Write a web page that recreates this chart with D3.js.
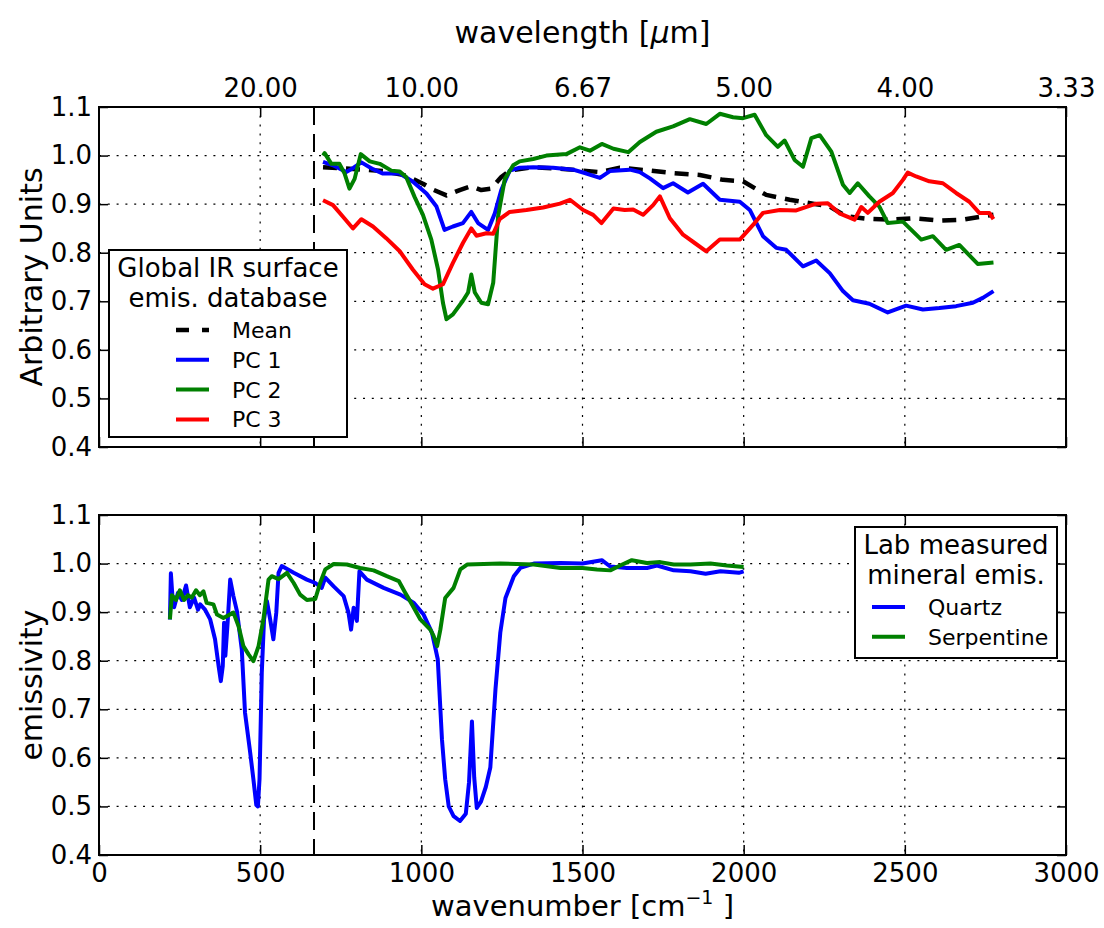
<!DOCTYPE html>
<html>
<head>
<meta charset="utf-8">
<script src="https://cdn.jsdelivr.net/npm/d3@7"></script>
<style>
  html, body { margin: 0; padding: 0; background: #fff; }
  svg { display: block; font-family: "DejaVu Sans", sans-serif; }
</style>
</head>
<body>
<svg id="chart" width="1104" height="928"></svg>
<script>
// ---- data: wavenumber [cm^-1] vs value ----
const wavenumberTicks = [0, 500, 1000, 1500, 2000, 2500, 3000];
const wavelengthTickPositions = [500, 1000, 1500, 2000, 2500, 3000];
const wavelengthTickLabels = ["20.00", "10.00", "6.67", "5.00", "4.00", "3.33"];
const yTicks = [0.4, 0.5, 0.6, 0.7, 0.8, 0.9, 1.0, 1.1];
const co2Band = 667;

const meanSpectrum = [[695,0.976],[777,0.973],[881,0.968],[953,0.959],[1005,0.942],[1036,0.93],[1078,0.918],[1119,0.929],[1155,0.937],[1186,0.929],[1217,0.932],[1248,0.956],[1274,0.969],[1347,0.976],[1450,0.972],[1554,0.966],[1616,0.975],[1709,0.969],[1781,0.964],[1864,0.96],[1936,0.95],[1998,0.947],[2070,0.919],[2143,0.909],[2215,0.901],[2267,0.895],[2318,0.875],[2380,0.87],[2452,0.868],[2525,0.871],[2607,0.866],[2680,0.868],[2742,0.875],[2775,0.878]];

const pc1 = [[695,0.987],[726,0.98],[767,0.966],[790,0.975],[814,0.986],[850,0.972],[881,0.963],[933,0.963],[974,0.946],[1016,0.922],[1047,0.895],[1072,0.847],[1098,0.854],[1129,0.861],[1155,0.884],[1176,0.861],[1207,0.847],[1228,0.881],[1248,0.929],[1274,0.969],[1305,0.975],[1347,0.976],[1409,0.975],[1471,0.971],[1512,0.963],[1554,0.954],[1585,0.968],[1647,0.971],[1678,0.966],[1709,0.953],[1750,0.933],[1781,0.943],[1827,0.924],[1874,0.942],[1926,0.909],[1988,0.905],[2019,0.888],[2060,0.834],[2101,0.810],[2132,0.806],[2184,0.772],[2225,0.784],[2267,0.758],[2308,0.721],[2339,0.702],[2390,0.695],[2447,0.677],[2504,0.691],[2556,0.683],[2607,0.686],[2659,0.690],[2711,0.697],[2742,0.707],[2775,0.721]];

const pc2 = [[695,1.0],[700,1.005],[721,0.983],[746,0.983],[762,0.963],[777,0.932],[793,0.952],[812,1.003],[840,0.988],[871,0.983],[907,0.969],[933,0.967],[953,0.956],[979,0.915],[1005,0.878],[1031,0.827],[1052,0.765],[1067,0.697],[1078,0.663],[1098,0.673],[1129,0.701],[1145,0.718],[1155,0.755],[1166,0.718],[1186,0.697],[1207,0.694],[1223,0.738],[1238,0.874],[1259,0.952],[1285,0.980],[1305,0.988],[1347,0.993],[1388,1.0],[1450,1.003],[1492,1.017],[1523,1.010],[1560,1.024],[1596,1.014],[1642,1.007],[1678,1.028],[1729,1.049],[1781,1.06],[1833,1.075],[1884,1.065],[1926,1.086],[1967,1.079],[1998,1.077],[2034,1.084],[2070,1.042],[2106,1.018],[2127,1.031],[2158,0.991],[2184,0.977],[2210,1.036],[2236,1.042],[2272,1.008],[2308,0.94],[2329,0.923],[2354,0.943],[2390,0.916],[2421,0.895],[2447,0.861],[2494,0.864],[2551,0.827],[2587,0.834],[2628,0.806],[2669,0.816],[2726,0.777],[2775,0.78]];

const pc3 = [[695,0.908],[726,0.898],[757,0.874],[788,0.85],[814,0.869],[850,0.854],[891,0.830],[933,0.803],[974,0.765],[1010,0.735],[1036,0.726],[1067,0.735],[1098,0.779],[1129,0.82],[1155,0.85],[1171,0.835],[1202,0.84],[1223,0.839],[1243,0.869],[1274,0.884],[1326,0.888],[1378,0.893],[1430,0.901],[1461,0.909],[1502,0.888],[1533,0.878],[1559,0.861],[1596,0.891],[1631,0.888],[1657,0.889],[1688,0.878],[1719,0.898],[1740,0.916],[1771,0.871],[1812,0.837],[1848,0.82],[1884,0.803],[1926,0.827],[1988,0.827],[2034,0.861],[2060,0.882],[2112,0.888],[2163,0.887],[2225,0.901],[2261,0.902],[2297,0.881],[2344,0.868],[2365,0.894],[2385,0.882],[2421,0.905],[2463,0.923],[2494,0.95],[2509,0.965],[2535,0.957],[2576,0.947],[2618,0.943],[2659,0.923],[2700,0.905],[2731,0.882],[2762,0.882],[2775,0.869]];

const quartz = [[220,0.885],[223,0.98],[228,0.93],[233,0.91],[245,0.94],[257,0.925],[270,0.955],[282,0.91],[295,0.93],[307,0.905],[314,0.916],[329,0.905],[345,0.885],[360,0.844],[371,0.789],[378,0.758],[384,0.789],[388,0.878],[392,0.81],[399,0.878],[407,0.967],[417,0.933],[428,0.902],[443,0.823],[453,0.693],[469,0.611],[479,0.556],[488,0.503],[493,0.5],[498,0.556],[505,0.775],[512,0.885],[521,0.923],[531,0.885],[541,0.844],[550,0.899],[557,0.981],[567,0.995],[604,0.981],[645,0.967],[671,0.96],[691,0.95],[702,0.971],[728,0.953],[759,0.933],[774,0.899],[782,0.864],[790,0.909],[800,0.882],[808,0.984],[831,0.967],[883,0.95],[935,0.936],[977,0.919],[1007,0.895],[1033,0.858],[1051,0.803],[1064,0.638],[1074,0.556],[1085,0.5],[1100,0.48],[1120,0.47],[1138,0.485],[1148,0.55],[1157,0.675],[1164,0.56],[1172,0.497],[1185,0.51],[1200,0.54],[1214,0.58],[1230,0.741],[1245,0.858],[1261,0.929],[1287,0.974],[1307,0.991],[1349,1.0],[1432,1.001],[1500,1.0],[1560,1.007],[1586,0.994],[1638,0.991],[1700,0.991],[1731,0.996],[1783,0.986],[1835,0.984],[1882,0.979],[1928,0.984],[1985,0.981],[2000,0.984]];

const serpentine = [[220,0.885],[226,0.935],[239,0.925],[251,0.945],[264,0.925],[276,0.935],[288,0.93],[301,0.945],[313,0.935],[324,0.943],[334,0.919],[355,0.916],[366,0.895],[386,0.888],[417,0.899],[433,0.871],[448,0.83],[464,0.813],[479,0.799],[495,0.83],[510,0.885],[526,0.967],[536,0.974],[557,0.968],[583,0.981],[604,0.96],[624,0.936],[645,0.925],[671,0.927],[686,0.96],[702,0.988],[728,0.999],[769,0.998],[810,0.991],[852,0.986],[893,0.974],[930,0.964],[950,0.94],[971,0.916],[997,0.885],[1028,0.864],[1038,0.851],[1049,0.83],[1059,0.864],[1074,0.929],[1100,0.95],[1121,0.988],[1142,0.998],[1245,1.0],[1349,0.998],[1432,0.991],[1500,0.991],[1545,0.988],[1586,0.986],[1617,0.996],[1653,1.007],[1700,1.001],[1741,1.003],[1783,0.998],[1835,0.998],[1897,1.0],[1948,0.996],[2000,0.993]];

const topSeries = [
  { name: "Mean", data: meanSpectrum, color: "#000000", dash: "14,9", width: 4.5 },
  { name: "PC 1", data: pc1, color: "#0000ff", dash: null, width: 4 },
  { name: "PC 2", data: pc2, color: "#008000", dash: null, width: 4 },
  { name: "PC 3", data: pc3, color: "#ff0000", dash: null, width: 4 }
];
const bottomSeries = [
  { name: "Quartz", data: quartz, color: "#0000ff", dash: null, width: 4 },
  { name: "Serpentine", data: serpentine, color: "#008000", dash: null, width: 4 }
];

// ---- layout ----
const svg = d3.select("#chart");
const left = 99, right = 1066;
const x = d3.scaleLinear().domain([0, 3000]).range([left, right]);
const panels = [
  { top: 107, bottom: 447, series: topSeries, ylabel: "Arbitrary Units",
    legend: { x: 109, y: 250, w: 238, h: 187, title: ["Global IR surface", "emis. database"] } },
  { top: 515, bottom: 855, series: bottomSeries, ylabel: "emissivity",
    legend: { x: 855, y: 527, w: 202, h: 131, title: ["Lab measured", "mineral emis."] } }
];

const tickFont = 26;

panels.forEach((p, pi) => {
  const y = d3.scaleLinear().domain([0.4, 1.1]).range([p.bottom, p.top]);
  const g = svg.append("g");
  const clipId = "clip" + pi;
  svg.append("clipPath").attr("id", clipId).append("rect")
    .attr("x", left).attr("y", p.top).attr("width", right - left).attr("height", p.bottom - p.top);

  // dotted grid
  const grid = g.append("g").attr("stroke", "#000").attr("stroke-width", 1.2)
    .attr("stroke-dasharray", "2,6.8").attr("fill", "none");
  grid.selectAll("line.h").data(yTicks.slice(1, -1)).join("line")
    .attr("x1", left).attr("x2", right).attr("y1", d => y(d)).attr("y2", d => y(d));
  grid.selectAll("line.v").data(wavenumberTicks.slice(1, -1)).join("line")
    .attr("y1", p.top).attr("y2", p.bottom).attr("x1", d => x(d)).attr("x2", d => x(d));

  // 15 micron marker
  g.append("line").attr("x1", x(co2Band)).attr("x2", x(co2Band))
    .attr("y1", p.top).attr("y2", p.bottom)
    .attr("stroke", "#000").attr("stroke-width", 2).attr("stroke-dasharray", "18,9");

  // spectra
  const line = d3.line().x(d => x(d[0])).y(d => y(d[1]));
  const lines = g.append("g").attr("clip-path", `url(#${clipId})`);
  p.series.forEach(s => {
    lines.append("path").datum(s.data).attr("d", line)
      .attr("fill", "none").attr("stroke", s.color).attr("stroke-width", s.width)
      .attr("stroke-linejoin", "round")
      .attr("stroke-dasharray", s.dash);
  });

  // axes with inward ticks
  const yAxisL = d3.axisLeft(y).tickValues(yTicks).tickFormat(d3.format(".1f"))
    .tickSizeInner(-9).tickSizeOuter(0).tickPadding(7);
  const yAxisR = d3.axisRight(y).tickValues(yTicks).tickFormat("")
    .tickSizeInner(-9).tickSizeOuter(0);
  const ax = [];
  ax.push(g.append("g").attr("transform", `translate(${left},0)`).call(yAxisL));
  ax.push(g.append("g").attr("transform", `translate(${right},0)`).call(yAxisR));
  const xAxisB = d3.axisBottom(x).tickValues(wavenumberTicks)
    .tickFormat(pi === 1 ? d3.format("d") : "")
    .tickSizeInner(-10).tickSizeOuter(0).tickPadding(9);
  ax.push(g.append("g").attr("transform", `translate(0,${p.bottom})`).call(xAxisB));
  if (pi === 0) {
    const xAxisT = d3.axisTop(x).tickValues(wavelengthTickPositions)
      .tickFormat((d, i) => wavelengthTickLabels[i])
      .tickSizeInner(-10).tickSizeOuter(0).tickPadding(10);
    ax.push(g.append("g").attr("transform", `translate(0,${p.top})`).call(xAxisT));
  } else {
    const xAxisT = d3.axisTop(x).tickValues(wavenumberTicks).tickFormat("")
      .tickSizeInner(-10).tickSizeOuter(0);
    ax.push(g.append("g").attr("transform", `translate(0,${p.top})`).call(xAxisT));
  }
  ax.forEach(a => {
    a.select(".domain").remove();
    a.selectAll(".tick line").attr("stroke", "#000").attr("stroke-width", 1.5);
    a.selectAll(".tick text").attr("fill", "#000")
      .style("font-family", "'DejaVu Sans', sans-serif").style("font-size", tickFont + "px");
  });

  // frame
  g.append("rect").attr("x", left).attr("y", p.top)
    .attr("width", right - left).attr("height", p.bottom - p.top)
    .attr("fill", "none").attr("stroke", "#000").attr("stroke-width", 2);

  // y label
  g.append("text").attr("transform", `translate(42,${(p.top + p.bottom) / 2}) rotate(-90)`)
    .attr("text-anchor", "middle").style("font-size", "30px").text(p.ylabel);

  // legend
  const L = p.legend;
  const lg = g.append("g");
  lg.append("rect").attr("x", L.x).attr("y", L.y).attr("width", L.w).attr("height", L.h)
    .attr("fill", "#fff").attr("stroke", "#000").attr("stroke-width", 2);
  L.title.forEach((t, i) => {
    lg.append("text").attr("x", L.x + L.w / 2).attr("y", L.y + 27 + i * 30)
      .attr("text-anchor", "middle").style("font-size", "26px").text(t);
  });
  const rowStart = L.y + 80, rowStep = 29.8;
  const sampleX = pi === 0 ? 176 : 872;
  p.series.forEach((s, i) => {
    const cy = rowStart + i * rowStep;
    lg.append("line").attr("x1", sampleX).attr("x2", sampleX + 33)
      .attr("y1", cy).attr("y2", cy)
      .attr("stroke", s.color).attr("stroke-width", s.width)
      .attr("stroke-dasharray", s.dash ? "13,13" : null);
    lg.append("text").attr("x", sampleX + 56).attr("y", cy).attr("dy", "0.36em")
      .style("font-size", "22px").text(s.name);
  });
});

// top axis label (wavelength)
const tl = svg.append("text").attr("x", (left + right) / 2).attr("y", 43)
  .attr("text-anchor", "middle").style("font-size", "30px");
tl.append("tspan").text("wavelength [");
tl.append("tspan").style("font-style", "italic").text("μ");
tl.append("tspan").text("m]");

// bottom axis label (wavenumber)
const bl = svg.append("text").attr("x", (left + right) / 2).attr("y", 916)
  .attr("text-anchor", "middle").style("font-size", "29px");
bl.append("tspan").text("wavenumber [cm");
bl.append("tspan").attr("dy", -12).style("font-size", "19px").text("−1");
bl.append("tspan").attr("dy", 12).text(" ]");
</script>
</body>
</html>
